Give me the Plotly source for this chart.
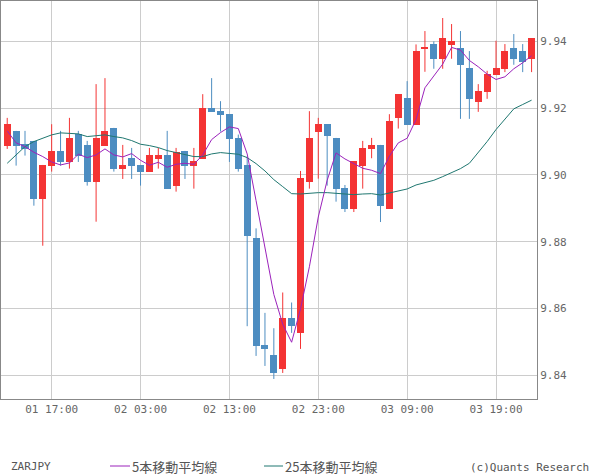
import plotly.graph_objects as go
import pandas as pd

# ---------------- data ----------------
times = pd.date_range("2024-05-01 12:00", periods=60, freq="h")

opens = [9.9088, 9.9132, 9.9092, 9.9102, 9.8928, 9.9028, 9.9072, 9.9039, 9.9122, 9.9090,
         9.8980, 9.9088, 9.9141, 9.9019, 9.9051, 9.9030, 9.9010, 9.9048, 9.9060, 9.8968,
         9.9072, 9.9028, 9.9048, 9.9200, 9.9191, 9.9182, 9.9111, 9.9030, 9.8810, 9.8490,
         9.8460, 9.8419, 9.8571, 9.8527, 9.8980, 9.9130, 9.9152, 9.9111, 9.8960, 9.8899,
         9.9028, 9.9079, 9.9090, 9.8899, 9.9170, 9.9230, 9.9150, 9.9378, 9.9392, 9.9348,
         9.9390, 9.9380, 9.9320, 9.9219, 9.9249, 9.9300, 9.9318, 9.9380, 9.9371, 9.9348]
highs = [9.9171, 9.9132, 9.9132, 9.9102, 9.9030, 9.9152, 9.9132, 9.9171, 9.9132, 9.9102,
         9.9272, 9.9290, 9.9141, 9.9090, 9.9081, 9.9030, 9.9081, 9.9081, 9.9132, 9.9081,
         9.9072, 9.9081, 9.9242, 9.9290, 9.9221, 9.9182, 9.9121, 9.9055, 9.8840, 9.8587,
         9.8541, 9.8648, 9.8618, 9.9012, 9.9191, 9.9171, 9.9152, 9.9111, 9.8970, 9.9041,
         9.9102, 9.9111, 9.9090, 9.9182, 9.9242, 9.9281, 9.9391, 9.9431, 9.9400, 9.9470,
         9.9452, 9.9431, 9.9371, 9.9272, 9.9312, 9.9402, 9.9392, 9.9422, 9.9392, 9.9410]
lows = [9.9078, 9.9028, 9.9058, 9.8908, 9.8788, 9.9010, 9.9028, 9.9019, 9.9039, 9.8968,
        9.8860, 9.9088, 9.9010, 9.8988, 9.8988, 9.8968, 9.9010, 9.9019, 9.8959, 9.8950,
        9.8988, 9.8959, 9.9048, 9.9189, 9.9130, 9.9039, 9.9010, 9.8547, 9.8458, 9.8428,
        9.8389, 9.8407, 9.8527, 9.8479, 9.8959, 9.8989, 9.8968, 9.8920, 9.8889, 9.8889,
        9.8959, 9.9050, 9.8859, 9.8899, 9.9139, 9.9150, 9.9150, 9.9309, 9.9318, 9.9318,
        9.9348, 9.9168, 9.9168, 9.9189, 9.9228, 9.9300, 9.9308, 9.9330, 9.9308, 9.9308]
closes = [9.9152, 9.9088, 9.9079, 9.8928, 9.9030, 9.9072, 9.9039, 9.9111, 9.9058, 9.8980,
          9.9111, 9.9132, 9.9019, 9.9030, 9.9028, 9.9010, 9.9060, 9.9060, 9.8959, 9.9070,
          9.9028, 9.9041, 9.9200, 9.9189, 9.9179, 9.9109, 9.9019, 9.8818, 9.8488, 9.8479,
          9.8407, 9.8571, 9.8548, 9.8990, 9.9111, 9.9152, 9.9118, 9.8959, 9.8899, 9.9041,
          9.9081, 9.9090, 9.8908, 9.9161, 9.9242, 9.9150, 9.9371, 9.9381, 9.9348, 9.9410,
          9.9400, 9.9330, 9.9228, 9.9251, 9.9302, 9.9320, 9.9371, 9.9348, 9.9338, 9.9410]
ma5 = [9.9132, 9.9096, 9.9085, 9.9068, 9.9055, 9.9039, 9.9030, 9.9036, 9.9062, 9.9052,
       9.9060, 9.9078, 9.9060, 9.9054, 9.9064, 9.9044, 9.9029, 9.9038, 9.9023, 9.9032,
       9.9035, 9.9032, 9.9060, 9.9106, 9.9127, 9.9144, 9.9139, 9.9063, 9.8923, 9.8783,
       9.8642, 9.8553, 9.8499, 9.8599, 9.8725, 9.8874, 9.8984, 9.9066, 9.9048, 9.9034,
       9.9020, 9.9014, 9.9004, 9.9056, 9.9096, 9.9110, 9.9166, 9.9261, 9.9298, 9.9332,
       9.9382, 9.9374, 9.9343, 9.9324, 9.9302, 9.9286, 9.9294, 9.9318, 9.9336, 9.9357]
ma25 = [9.9035, 9.9060, 9.9085, 9.9100, 9.9110, 9.9120, 9.9126, 9.9125, 9.9123, 9.9115,
        9.9117, 9.9120, 9.9115, 9.9111, 9.9103, 9.9092, 9.9088, 9.9082, 9.9073, 9.9067,
        9.9062, 9.9055, 9.9055, 9.9063, 9.9067, 9.9065, 9.9062, 9.9052, 9.9034, 9.9012,
        9.8986, 9.8965, 9.8944, 9.8943, 9.8946, 9.8947, 9.8947, 9.8945, 9.8942, 9.8941,
        9.8943, 9.8944, 9.8940, 9.8946, 9.8953, 9.8958, 9.8970, 9.8978, 9.8984, 9.8995,
        9.9006, 9.9019, 9.9035, 9.9066, 9.9100, 9.9136, 9.9168, 9.9198, 9.9211, 9.9224]

symbol = "ZARJPY"
ma5_name = "5本移動平均線"
ma25_name = "25本移動平均線"
credit = "(c)Quants Research"

# ---------------- style ----------------
UP = "#f43434"
DOWN = "#4d8dc1"
C_MA5 = "#9b22bb"
C_MA25 = "#1f7770"
GRID = "#cccccc"
AXIS = "#888888"
TXT = "#666666"
MONO = "DejaVu Sans Mono"
CJK = "Noto Sans CJK JP"

W, H = 600, 475
L, T, PW, PH = 1, 1, 536, 398


def px(x):
    return (x - L) / PW


def py(y):
    return (T + PH - y) / PH


fig = go.Figure()

up_idx = [i for i in range(len(closes)) if closes[i] >= opens[i]]
dn_idx = [i for i in range(len(closes)) if closes[i] < opens[i]]

bar_w = 0.79 * 3600 * 1000

for idx, col in ((up_idx, UP), (dn_idx, DOWN)):
    # wicks
    wx, wy = [], []
    for i in idx:
        wx += [times[i], times[i], None]
        wy += [lows[i], highs[i], None]
    fig.add_trace(go.Scatter(x=wx, y=wy, mode="lines",
                             line=dict(color=col, width=1),
                             hoverinfo="skip", showlegend=False))
    # bodies
    base = [min(opens[i], closes[i]) for i in idx]
    height = [max(abs(closes[i] - opens[i]), 0.0003) for i in idx]
    fig.add_trace(go.Bar(x=[times[i] for i in idx], y=height, base=base,
                         width=bar_w, marker=dict(color=col, line=dict(width=0)),
                         showlegend=False))

fig.add_trace(go.Scatter(x=times, y=ma25, mode="lines",
                         line=dict(color=C_MA25, width=1), name=ma25_name,
                         showlegend=False))
fig.add_trace(go.Scatter(x=times, y=ma5, mode="lines",
                         line=dict(color=C_MA5, width=1), name=ma5_name,
                         showlegend=False))

t0 = times[0]
hour = pd.Timedelta(hours=1)
x_range = [t0 - 0.70 * hour, t0 + 59.61 * hour]

fig.update_layout(
    width=W, height=H,
    margin=dict(l=L, r=W - L - PW, t=T, b=H - T - PH),
    paper_bgcolor="white", plot_bgcolor="white",
    barmode="overlay", bargap=0,
    showlegend=False,
    xaxis=dict(type="date", range=x_range,
               tick0=times[5], dtick=10 * 3600 * 1000,
               tickformat="%d %H:%M",
               showgrid=True, gridcolor=GRID, gridwidth=1,
               showline=True, linecolor=AXIS, linewidth=1, mirror=True,
               ticks="", zeroline=False,
               tickfont=dict(family=MONO, size=11, color=TXT)),
    yaxis=dict(range=[9.8329, 9.9521], side="right",
               tick0=9.84, dtick=0.02, tickformat=".2f",
               showgrid=True, gridcolor=GRID, gridwidth=1,
               showline=True, linecolor=AXIS, linewidth=1, mirror=True,
               ticks="", zeroline=False,
               tickfont=dict(family=MONO, size=11, color=TXT)),
)

ly = 466
fig.add_annotation(x=px(9), y=py(ly), xref="paper", yref="paper", text=symbol,
                   showarrow=False, xanchor="left", yanchor="middle",
                   font=dict(family=MONO, size=11, color="#555555"))
fig.add_shape(type="line", xref="paper", yref="paper",
              x0=px(110), x1=px(130), y0=py(ly), y1=py(ly),
              line=dict(color=C_MA5, width=1))
fig.add_annotation(x=px(130), y=py(ly), xref="paper", yref="paper", text=ma5_name,
                   showarrow=False, xanchor="left", yanchor="middle",
                   font=dict(family=CJK, size=13, color="#555555"))
fig.add_shape(type="line", xref="paper", yref="paper",
              x0=px(264), x1=px(283), y0=py(ly), y1=py(ly),
              line=dict(color=C_MA25, width=1))
fig.add_annotation(x=px(283), y=py(ly), xref="paper", yref="paper", text=ma25_name,
                   showarrow=False, xanchor="left", yanchor="middle",
                   font=dict(family=CJK, size=13, color="#555555"))
fig.add_annotation(x=px(591), y=py(ly + 1), xref="paper", yref="paper", text=credit,
                   showarrow=False, xanchor="right", yanchor="middle",
                   font=dict(family=MONO, size=11, color="#555555"))

fig.write_html("out.html")
